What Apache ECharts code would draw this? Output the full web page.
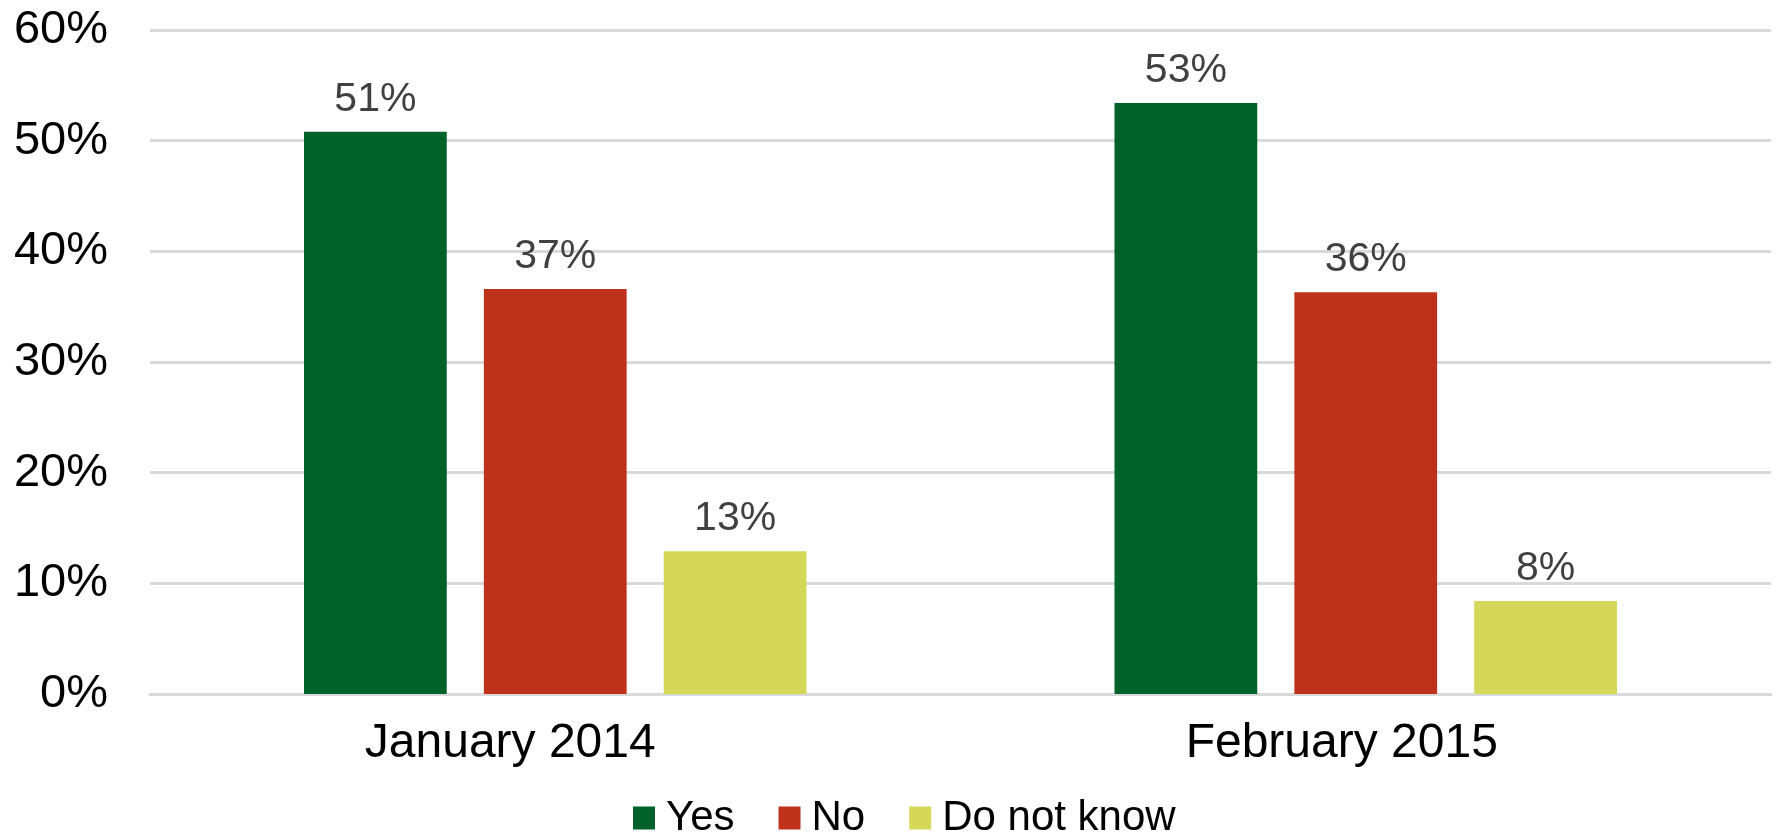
<!DOCTYPE html>
<html>
<head>
<meta charset="utf-8">
<script src="https://cdn.jsdelivr.net/npm/echarts@6/dist/echarts.min.js"></script>
<style>html,body{margin:0;padding:0;background:#fff;}#c{width:1777px;height:835px;}</style>
</head>
<body>
<div id="c"></div>
<script>
const categories = ['January 2014', 'February 2015'];
const yesValues = [50.8, 53.4];
const noValues = [36.6, 36.3];
const dkValues = [12.9, 8.4];
const seriesNames = ['Yes', 'No', 'Do not know'];
const yTicks = [0, 10, 20, 30, 40, 50, 60];

const colors = ['#006129', '#BE311B', '#D4D758'];
const font = 'Liberation Sans, Arial, sans-serif';
const labelPads = [[0, 90, 0, 0], [0, 48, 0, 0]];
const labelCfg = {
  show: true, position: 'top', distance: 12,
  color: '#404040', fontSize: 41, fontFamily: font,
  formatter: p => Math.round(p.value) + '%'
};
const chart = echarts.init(document.getElementById('c'));
chart.setOption({
  animation: false,
  color: colors,
  grid: { left: 150, right: 6, top: 30, bottom: 141, containLabel: false },
  legend: {
    bottom: -4, left: 633,
    padding: 0,
    data: seriesNames,
    icon: 'rect', itemWidth: 22, itemHeight: 23, itemGap: 44,
    textStyle: { fontSize: 42, fontFamily: font, color: '#000', padding: [0, 0, 0, 6] }
  },
  xAxis: {
    type: 'category',
    data: categories.map((c, i) => ({ value: c, textStyle: { padding: labelPads[i] } })),
    axisLine: { show: true, lineStyle: { color: '#d9d9d9', width: 3 } },
    axisTick: { show: false },
    axisLabel: { fontSize: 48, fontFamily: font, color: '#000', margin: 26 }
  },
  yAxis: {
    type: 'value', min: yTicks[0], max: yTicks[yTicks.length - 1], interval: 10,
    axisLine: { show: false }, axisTick: { show: false },
    splitLine: { lineStyle: { color: '#d9d9d9', width: 3 } },
    axisLabel: { fontSize: 47, fontFamily: font, color: '#000', margin: 42, formatter: v => v + '%' }
  },
  series: [
    { name: seriesNames[0], type: 'bar', data: yesValues, barGap: '26%', barCategoryGap: '38%', label: labelCfg },
    { name: seriesNames[1], type: 'bar', data: noValues, label: labelCfg },
    { name: seriesNames[2], type: 'bar', data: dkValues, label: labelCfg }
  ]
});
</script>
</body>
</html>
